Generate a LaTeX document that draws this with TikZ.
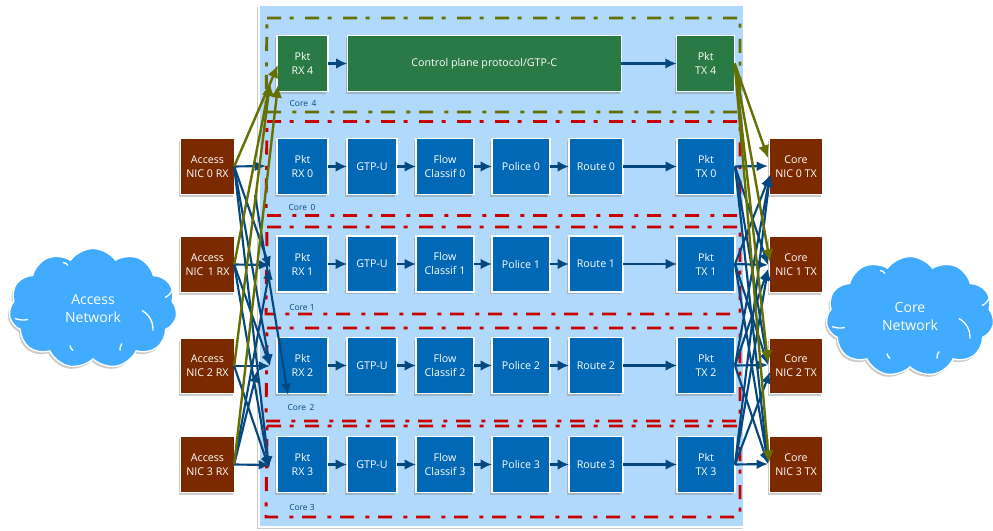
\documentclass[tikz,border=0pt]{standalone}
\usepackage{fontspec}
\setmainfont{Open Sans}
\usetikzlibrary{arrows.meta,positioning,shadows,shapes.symbols}
\definecolor{panelblue}{RGB}{176,217,252}
\definecolor{corebox}{RGB}{0,104,181}
\definecolor{ctrlgreen}{RGB}{42,122,69}
\definecolor{nicbrown}{RGB}{123,42,0}
\definecolor{cloudblue}{RGB}{64,171,255}
\definecolor{linknavy}{RGB}{5,72,128}
\definecolor{linkolive}{RGB}{102,112,0}
\definecolor{framered}{RGB}{200,0,0}

\begin{document}
\begin{tikzpicture}[
    x=0.75pt, y=-0.75pt,
    font=\fontsize{8}{10.5}\selectfont,
    shade/.style={drop shadow={shadow xshift=-1.2pt, shadow yshift=-1.8pt, opacity=.4}},
    box/.style={draw=white, line width=0.8pt, fill=corebox, text=white, align=center,
                inner sep=0pt, outer sep=0pt, minimum height=42pt, shade},
    ctrl/.style={box, fill=ctrlgreen},
    nic/.style={box, fill=nicbrown, minimum width=40pt, minimum height=41.5pt},
    net/.style={cloud, cloud puffs=11, cloud puff arc=110, aspect=1.45, draw=white, line width=1pt,
                fill=cloudblue, text=white, align=center, inner sep=0pt, shade,
                minimum width=126pt, minimum height=90pt, font=\fontsize{10.5}{14}\selectfont},
    corelabel/.style={text=linknavy, inner sep=0pt, font=\fontsize{6.3}{8}\selectfont},
    frame/.style={line width=2.2pt, dash pattern=on 10.5pt off 6.5pt on 3pt off 8.5pt},
    arr/.style={-{Latex[length=8.5pt,width=8pt]}, line width=1.9pt, linknavy},
    lnk/.style={-{Latex[length=8.5pt,width=7.5pt]}, line width=1.6pt, linknavy},
    olv/.style={-{Latex[length=9.5pt,width=8.5pt]}, line width=1.8pt, linkolive},
    puffs/.pic={
      \draw[white, line width=1pt]
        (49,2) to[bend left=30] (60,22)
        (-78,10) to[bend right=15] (-65,11)
        (72,-11) to[bend right=20] (79,-18)
        (-30,-46) to[bend left=25] (-25,-43)
        (29,35) to[bend right=20] (27,42)
        (-23,37) to[bend right=20] (-20,42);
    }
  ]
  \useasboundingbox (0,0) rectangle (993,531);

  \node[draw=white, line width=1pt, fill=panelblue, inner sep=0pt, minimum width=363.75pt,
        minimum height=391.5pt, shade] (panel) at (501.5,266) {};

  % dash-dot core frames
  \draw[frame, linkolive] (267,18) -- (740,18) -- (740,112) -- (266,112) -- cycle;
  \draw[frame, framered] (267,121.5) -- (740,121.5) -- (740,215.5) -- (266,215.5) -- cycle;
  \draw[frame, framered] (267,227) -- (740,227) -- (740,314) -- (266,314) -- cycle;
  \draw[frame, framered] (267,328) -- (740,328) -- (740,421) -- (266,421) -- cycle;
  \draw[frame, framered] (267,426) -- (740,426) -- (740,517) -- (266,517) -- cycle;

  % core 4
  \node[ctrl, minimum width=38.25pt] (rx4) at (302.5,63.5) {Pkt\\RX 4};
  \node[ctrl, minimum width=205.5pt, right=14.5pt of rx4] (cp4) {Control plane protocol/GTP-C};
  \node[ctrl, minimum width=43.5pt, right=41.5pt of cp4] (tx4) {Pkt\\TX 4};
  \node[corelabel] (lab4) at (303,104) {Core\, 4};

  % core 0
  \node[box, minimum width=38.25pt] (rx0) at (302.5,166.5) {Pkt\\RX 0};
  \node[box, minimum width=37.5pt, right=14.25pt of rx0] (gtp0) {GTP-U};
  \node[box, minimum width=43.5pt, right=14.25pt of gtp0] (flow0) {Flow\\Classif 0};
  \node[box, minimum width=43.5pt, right=13.5pt of flow0] (pol0) {Police 0};
  \node[box, minimum width=40.5pt, right=14.25pt of pol0] (rt0) {Route 0};
  \node[box, minimum width=43.5pt, right=40.5pt of rt0] (tx0) {Pkt\\TX 0};
  \node[corelabel] (lab0) at (302,207) {Core\, 0};

  % core 1
  \node[box, minimum width=38.25pt] (rx1) at (302.5,264) {Pkt\\RX 1};
  \node[box, minimum width=37.5pt, right=14.25pt of rx1] (gtp1) {GTP-U};
  \node[box, minimum width=43.5pt, right=14.25pt of gtp1] (flow1) {Flow\\Classif 1};
  \node[box, minimum width=43.5pt, right=13.5pt of flow1] (pol1) {Police 1};
  \node[box, minimum width=40.5pt, right=14.25pt of pol1] (rt1) {Route 1};
  \node[box, minimum width=43.5pt, right=40.5pt of rt1] (tx1) {Pkt\\TX 1};
  \node[corelabel] (lab1) at (302,307) {Core 1};

  % core 2
  \node[box, minimum width=38.25pt] (rx2) at (302.5,365.5) {Pkt\\RX 2};
  \node[box, minimum width=37.5pt, right=14.25pt of rx2] (gtp2) {GTP-U};
  \node[box, minimum width=43.5pt, right=14.25pt of gtp2] (flow2) {Flow\\Classif 2};
  \node[box, minimum width=43.5pt, right=13.5pt of flow2] (pol2) {Police 2};
  \node[box, minimum width=40.5pt, right=14.25pt of pol2] (rt2) {Route 2};
  \node[box, minimum width=43.5pt, right=40.5pt of rt2] (tx2) {Pkt\\TX 2};
  \node[corelabel] (lab2) at (301,407) {Core\, 2};

  % core 3
  \node[box, minimum width=38.25pt] (rx3) at (302.5,464.5) {Pkt\\RX 3};
  \node[box, minimum width=37.5pt, right=14.25pt of rx3] (gtp3) {GTP-U};
  \node[box, minimum width=43.5pt, right=14.25pt of gtp3] (flow3) {Flow\\Classif 3};
  \node[box, minimum width=43.5pt, right=13.5pt of flow3] (pol3) {Police 3};
  \node[box, minimum width=40.5pt, right=14.25pt of pol3] (rt3) {Route 3};
  \node[box, minimum width=43.5pt, right=40.5pt of rt3] (tx3) {Pkt\\TX 3};
  \node[corelabel] (lab3) at (302,507) {Core 3};

  % nic ports
  \node[nic] (acc0) at (207.5,166.5) {Access\\NIC 0 RX};
  \node[nic] (acc1) at (207.5,264.5) {Access\\NIC\, 1 RX};
  \node[nic] (acc2) at (207.5,366) {Access\\NIC 2 RX};
  \node[nic] (acc3) at (207.5,464.5) {Access\\NIC 3 RX};
  \node[nic] (cor0) at (796,166.5) {Core\\NIC 0 TX};
  \node[nic] (cor1) at (796,264.5) {Core\\NIC 1 TX};
  \node[nic] (cor2) at (796,366) {Core\\NIC 2 TX};
  \node[nic] (cor3) at (796,464.5) {Core\\NIC 3 TX};

  \node[net] (accnet) at (93,308.5) {Access\\Network};
  \node[net] (cornet) at (910,316.5) {Core\\Network};
  \pic at (accnet.center) {puffs};
  \pic at (cornet.center) {puffs};

  % pipeline arrows
  \draw[arr] (rx4) -- (cp4);
  \draw[arr] (cp4) -- (tx4);
  \draw[arr] (rx0) -- (gtp0);
  \draw[arr] (gtp0) -- (flow0);
  \draw[arr] (flow0) -- (pol0);
  \draw[arr] (pol0) -- (rt0);
  \draw[arr] (rt0) -- (tx0);
  \draw[arr] (rx1) -- (gtp1);
  \draw[arr] (gtp1) -- (flow1);
  \draw[arr] (flow1) -- (pol1);
  \draw[arr] (pol1) -- (rt1);
  \draw[arr] (rt1) -- (tx1);
  \draw[arr] (rx2) -- (gtp2);
  \draw[arr] (gtp2) -- (flow2);
  \draw[arr] (flow2) -- (pol2);
  \draw[arr] (pol2) -- (rt2);
  \draw[arr] (rt2) -- (tx2);
  \draw[arr] (rx3) -- (gtp3);
  \draw[arr] (gtp3) -- (flow3);
  \draw[arr] (flow3) -- (pol3);
  \draw[arr] (pol3) -- (rt3);
  \draw[arr] (rt3) -- (tx3);

  % free ends of the fan links
  \coordinate (in0) at (266,166);
  \coordinate (in1) at (270,265);
  \coordinate (in1b) at (270,268);
  \coordinate (in2) at (270,366);
  \coordinate (in2b) at (257,371);
  \coordinate (in2c) at (288,395);
  \coordinate (in2s) at (255,195);
  \coordinate (in3) at (270,465);
  \coordinate (in3b) at (269,468);
  \coordinate (in4a) at (278,65);
  \coordinate (in4b) at (270,83);
  \coordinate (in4c) at (278,85);
  \coordinate (out0) at (768,166);
  \coordinate (out0b) at (770,175);
  \coordinate (out1) at (768,265);
  \coordinate (out1b) at (768,269);
  \coordinate (out2) at (768,365);
  \coordinate (out2b) at (770,372);
  \coordinate (out3) at (768,464);
  \coordinate (gout0) at (768,158);
  \coordinate (gout1) at (770,262);
  \coordinate (gout2) at (768,363);
  \coordinate (gout3) at (769,463);

  % rx fan
  \draw[lnk] (acc0.east) -- (in0);
  \draw[lnk] (acc0.east) -- (in1b);
  \draw[lnk] (acc0.east) -- (in2);
  \draw[lnk] (acc0.east) -- (in3b);
  \draw[lnk] (acc1.east) -- (in1);
  \draw[lnk] (acc1.east) -- (in2);
  \draw[lnk] (acc1.east) -- (in3b);
  \draw[lnk] (acc2.east) -- (in2);
  \draw[lnk] (acc2.east) -- (in3b);
  \draw[lnk] (acc3.east) -- (in3);
  \draw[lnk] (acc3.east) -- (in2b);
  \draw[lnk] (acc3.east) -- (in1b);
  \draw[lnk] (in2s) -- (in2c);
  \draw[olv] (acc0.east) -- (in4a);
  \draw[olv] (acc1.east) -- (in4b);
  \draw[olv] (acc2.east) -- (in4b);
  \draw[olv] (acc3.east) -- (in4c);

  % tx fan
  \draw[lnk] (tx0.east) -- (out0);
  \draw[lnk] (tx0.east) -- (out1);
  \draw[lnk] (tx0.east) -- (out2);
  \draw[lnk] (tx0.east) -- (out3);
  \draw[lnk] (tx1.east) -- (out0b);
  \draw[lnk] (tx1.east) -- (out1);
  \draw[lnk] (tx1.east) -- (out2);
  \draw[lnk] (tx1.east) -- (out3);
  \draw[lnk] (tx2.east) -- (out0b);
  \draw[lnk] (tx2.east) -- (out1b);
  \draw[lnk] (tx2.east) -- (out2);
  \draw[lnk] (tx2.east) -- (out3);
  \draw[lnk] (tx3.east) -- (out0b);
  \draw[lnk] (tx3.east) -- (out1b);
  \draw[lnk] (tx3.east) -- (out2b);
  \draw[lnk] (tx3.east) -- (out3);
  \draw[olv] (tx4.east) -- (gout0);
  \draw[olv] (tx4.east) -- (gout1);
  \draw[olv] (tx4.east) -- (gout2);
  \draw[olv] (tx4.east) -- (gout3);
\end{tikzpicture}
\end{document}
